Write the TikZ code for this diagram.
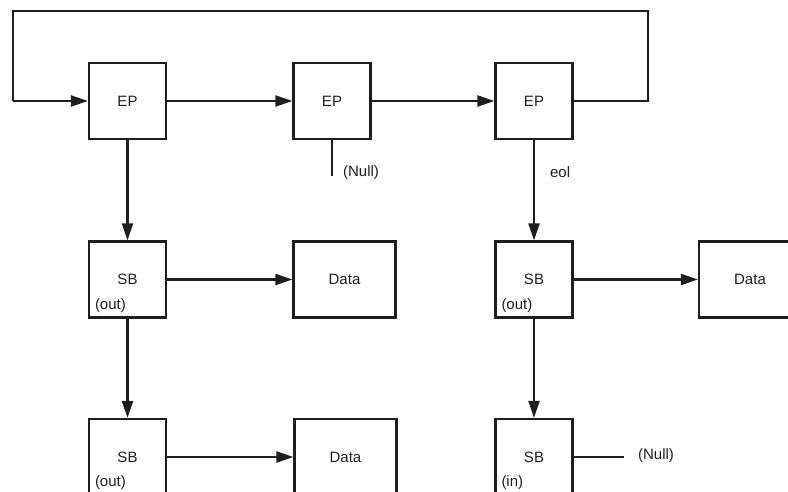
\documentclass[tikz,border=0pt]{standalone}
\usepackage{fontspec}
\setmainfont{Liberation Sans}
\usetikzlibrary{arrows.meta}
\definecolor{ink}{HTML}{1E1E1E}
\begin{document}
\begin{tikzpicture}[x=1pt,y=-1pt,
  line width=2.2pt, draw=ink,
  box/.style={draw=ink, line width=2.2pt, minimum width=77pt, minimum height=76pt,
    inner sep=0pt, font=\fontsize{15}{17}\selectfont, text=ink},
  databox/.style={box, minimum width=102pt},
  tag/.style={font=\fontsize{15}{17}\selectfont, text=ink, inner sep=0pt, anchor=west},
  link/.style={draw=ink, line width=2.2pt, -{Triangle[length=17pt,width=11pt]}},
  plain/.style={draw=ink, line width=2.2pt}]
\useasboundingbox (0,0) rectangle (788,492);

% endpoint chain
\node[box] (ep1) at (127.5,101) {EP};
\node[box] (ep2) at (332,101) {EP};
\node[box] (ep3) at (534,101) {EP};

% buffers
\node[box] (sb1) at (127.5,279.5) {SB};
\node[box] (sb2) at (127.5,457) {SB};
\node[box] (sb3) at (534,279.5) {SB};
\node[box] (sb4) at (534,457) {SB};

\node[tag] at ([xshift=6pt,yshift=13pt]sb1.south west) {(out)};
\node[tag] at ([xshift=6pt,yshift=13pt]sb2.south west) {(out)};
\node[tag] at ([xshift=6pt,yshift=13pt]sb3.south west) {(out)};
\node[tag] at ([xshift=6pt,yshift=13pt]sb4.south west) {(in)};

% data blocks
\node[databox] (d1) at (344.5,279.5) {Data};
\node[databox] (d2) at (345.5,457) {Data};
\node[databox] (d3) at (750,279.5) {Data};

% loop around the chain
\coordinate (lr) at (648,101);
\coordinate (tr) at (648,11);
\coordinate (tl) at (13,11);
\coordinate (ll) at (13,101);
\draw[plain, line join=miter] (ep3.east) -- (lr) -- (tr) -- (tl) -- (ll);
\draw[link] (ll) -- (ep1.west);

\draw[link] (ep1.east) -- (ep2.west);
\draw[link] (ep2.east) -- (ep3.west);

% null end of EP2
\coordinate (n1) at (ep2.south |- 0,176);
\draw[plain] (ep2.south) -- (n1);
\node[tag] (null1) at (342,173) {(Null)};

% downward links
\draw[link] (ep1.south) -- (sb1.north);
\draw[link] (sb1.south) -- (sb2.north);
\draw[link] (ep3.south) -- (sb3.north);
\node[tag] (eol) at (549,172) {eol};
\draw[link] (sb3.south) -- (sb4.north);

% buffers to data
\draw[link] (sb1.east) -- (d1.west);
\draw[link] (sb2.east) -- (d2.west);
\draw[link] (sb3.east) -- (d3.west);

% null end of last buffer
\coordinate (n2) at (624,457);
\draw[plain] (sb4.east) -- (n2);
\node[tag] (null2) at (637,456) {(Null)};
\end{tikzpicture}
\end{document}
